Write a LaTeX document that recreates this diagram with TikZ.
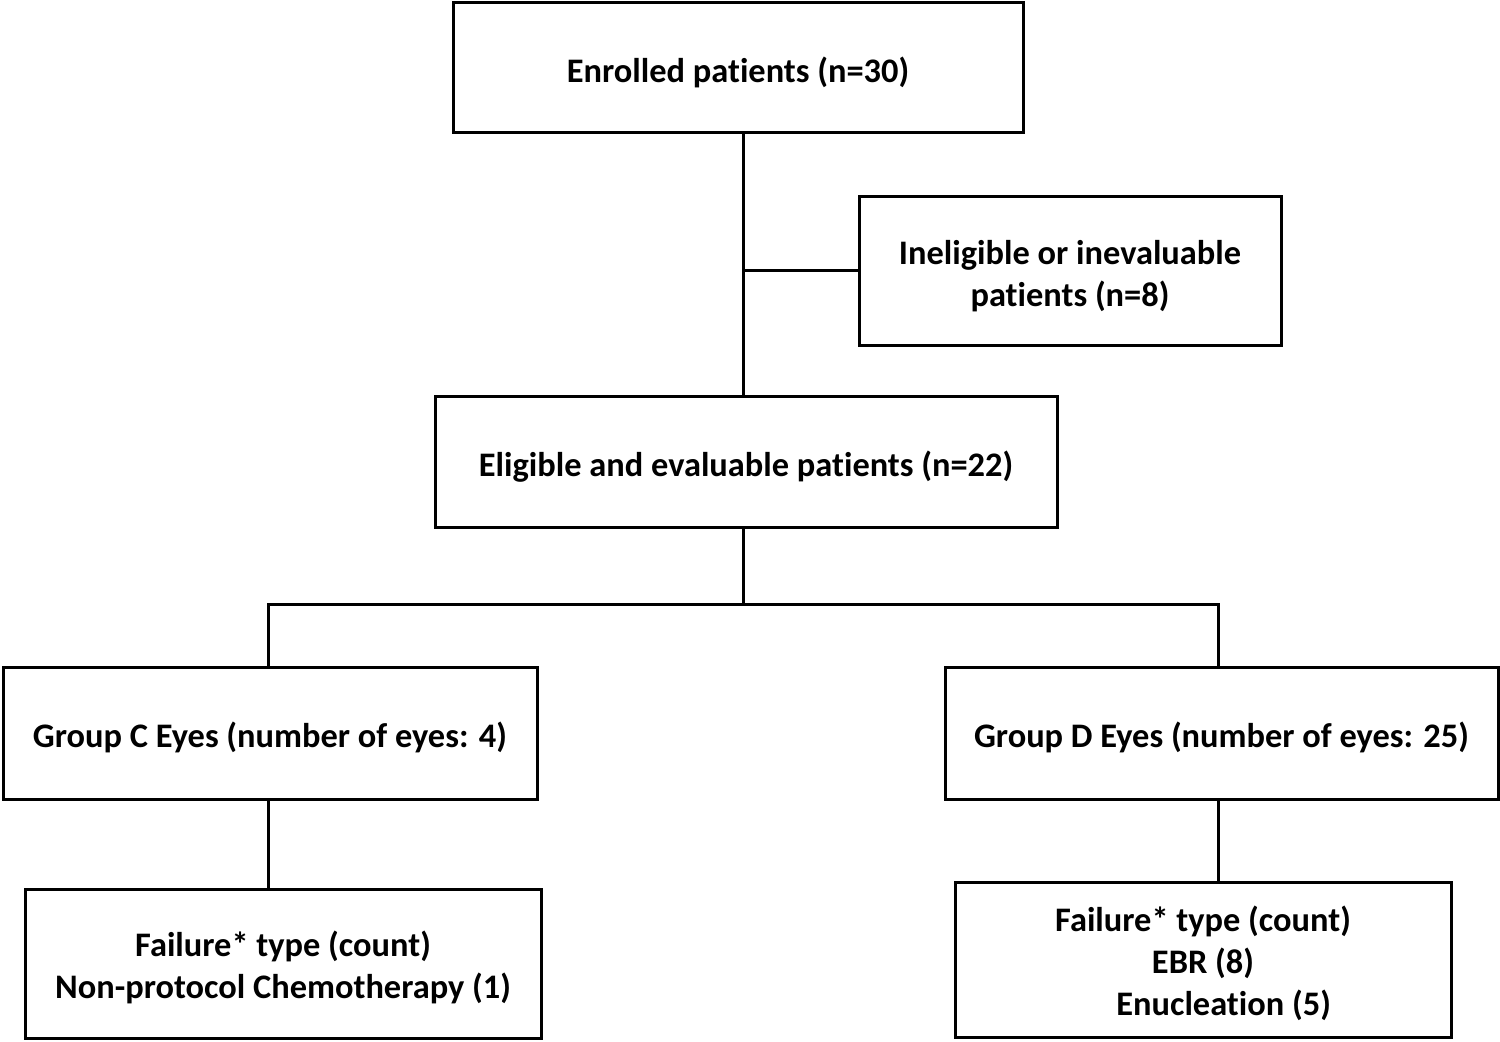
\documentclass[tikz,border=0pt]{standalone}
\usepackage{fontspec}
\setmainfont{Carlito}[Ligatures={NoCommon,NoContextual},Contextuals=NoAlternate]
\newcommand\topstrut{\rule{0pt}{17pt}}
\newcommand\nolig{\kern0pt }
\begin{document}
\begin{tikzpicture}[x=0.5pt,y=-0.5pt,
  box/.style={draw=black, line width=1.5pt, fill=white, align=center, inner sep=0pt,
    font=\fontsize{17.2}{21}\selectfont\bfseries},
  link/.style={draw=black, line width=1.5pt}]
\useasboundingbox[fill=white] (0,0) rectangle (1500,1042);
\node[box, minimum width=285pt, minimum height=65pt] (enr) at (738,68) {\topstrut Enrolled pat\nolig ients (n=30)};
\node[box, minimum width=211pt, minimum height=74.5pt] (inel) at (1070,271.5) {\topstrut Ineligible or inevaluable\\pat\nolig ients (n=8)};
\node[box, minimum width=311pt, minimum height=65.5pt] (elig) at (746,462.5) {\topstrut Eligible and evaluable pat\nolig ients (n=22)};
\node[box, minimum width=267pt, minimum height=65.5pt] (gc) at (270,733.5) {\topstrut Group C Eyes (number of eyes: 4)};
\node[box, minimum width=276.5pt, minimum height=65.5pt] (gd) at (1221.5,733.5) {\topstrut Group D Eyes (number of eyes: 25)};
\node[box, minimum width=258pt, minimum height=74.5pt] (fc) at (283,963.5) {\topstrut Failure* type (count)\\Non-protocol Chemotherapy (1)};
\node[box, minimum width=248pt, minimum height=77.5pt] (fd) at (1203,959.5) {\topstrut Failure* type (count)\\EBR (8)\\\hspace*{1.2em}Enucleat\nolig ion (5)};
\coordinate (j1) at (743,271);
\coordinate (j2) at (743,605);
\coordinate (jl) at (268,605);
\coordinate (jr) at (1218,605);
\draw[link] (enr.south -| j1) -- (elig.north -| j1);
\draw[link] (j1) -- (inel.west |- j1);
\draw[link] (elig.south -| j2) -- (j2);
\draw[link] (jl |- gc.north) -- (jl) -- (jr) -- (jr |- gd.north);
\draw[link] (gc.south -| jl) -- (fc.north -| jl);
\draw[link] (gd.south -| jr) -- (fd.north -| jr);
\end{tikzpicture}
\end{document}
